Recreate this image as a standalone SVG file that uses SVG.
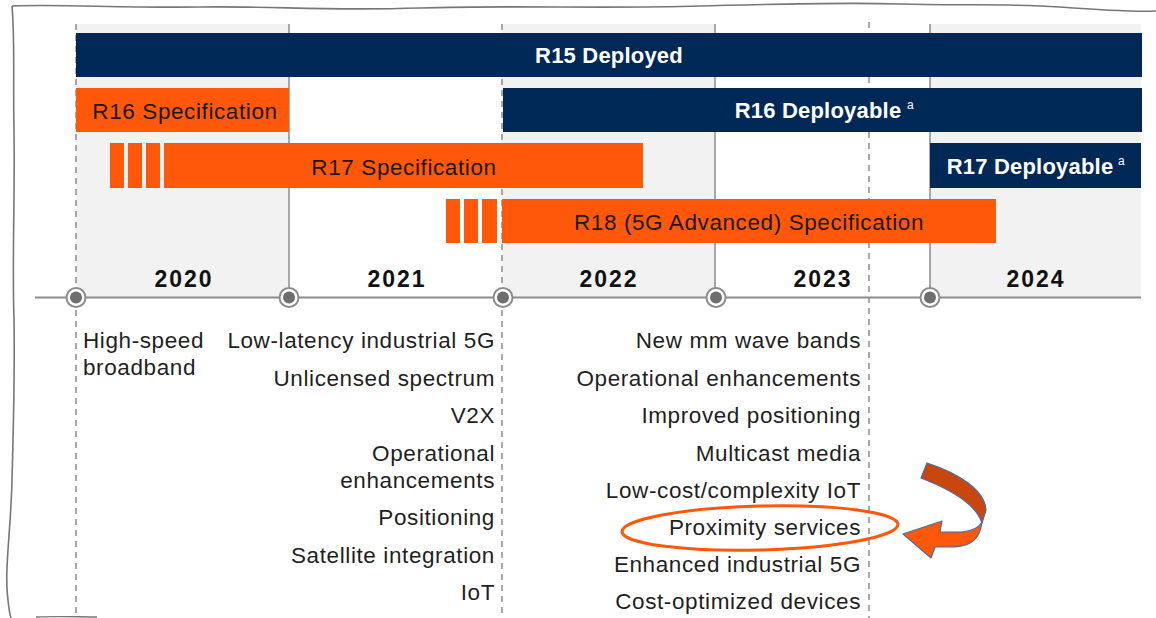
<svg xmlns="http://www.w3.org/2000/svg" width="1156" height="618" viewBox="0 0 1156 618">
<style>
.band{fill:#f2f2f2}
.navy{fill:#002856}
.orng{fill:#ff580a}
.sol{stroke:#8c8c8c;stroke-width:1.5;fill:none}
.dash{stroke:#8c8c8c;stroke-width:1.5;stroke-dasharray:6 5;fill:none}
.bt{font-family:"Liberation Sans",Arial,sans-serif;font-size:22.5px;fill:#1a1a1a;text-anchor:middle;letter-spacing:0.6px}
.wt{font-family:"Liberation Sans",Arial,sans-serif;font-size:22px;font-weight:bold;fill:#ffffff;text-anchor:middle;letter-spacing:0.2px}
.sup{font-family:"Liberation Sans",Arial,sans-serif;font-size:12px;fill:#ffffff}
.yr{font-family:"Liberation Sans",Arial,sans-serif;font-size:23px;font-weight:bold;fill:#111;text-anchor:middle;letter-spacing:2px}
.lt{font-family:"Liberation Sans",Arial,sans-serif;font-size:22.5px;fill:#1f1f1f;letter-spacing:0.6px}
.r{text-anchor:end}
</style>
<rect width="1156" height="618" fill="#ffffff"/>
<!-- hand-drawn border -->
<path d="M12,6 C60,4 120,8 200,7 C280,6 320,11 420,8 C520,5 600,9 700,6 C780,4 840,2 900,4 C960,6 1000,3 1060,7 C1100,10 1130,12 1156,11" fill="none" stroke="#777" stroke-width="1.6"/>
<path d="M12,6 C15,40 13,80 14,130 C15,200 12,260 14,320 C15,380 13,440 12,480 C11,530 4,570 8,600 C9,610 10,615 11,618" fill="none" stroke="#777" stroke-width="1.6"/>
<path d="M36,617 C60,616 80,617 97,617" fill="none" stroke="#777" stroke-width="1.4"/>
<!-- shaded year columns -->
<g id="columns">
<rect class="band" x="76" y="24" width="213" height="273"/>
<rect class="band" x="502" y="24" width="213" height="273"/>
<rect class="band" x="930" y="24" width="211" height="273"/>
</g>
<!-- grid lines -->
<g id="grid">
<line class="dash" x1="76" y1="24" x2="76" y2="618"/>
<line class="dash" x1="502" y1="24" x2="502" y2="618"/>
<line class="dash" x1="869" y1="22" x2="869" y2="618"/>
<line class="sol" x1="289" y1="24" x2="289" y2="297"/>
<line class="sol" x1="715" y1="24" x2="715" y2="297"/>
<line class="sol" x1="930" y1="24" x2="930" y2="297"/>
<line x1="35" y1="297.5" x2="1141" y2="297.5" stroke="#8c8c8c" stroke-width="2"/>
</g>
<!-- bars -->
<g id="r15-deployed">
<rect class="navy" x="76" y="33" width="1066" height="44"/>
<text class="wt" x="609" y="63">R15 Deployed</text>
</g>
<g id="r16-spec">
<rect class="orng" x="76" y="88" width="213" height="44"/>
<text class="bt" x="185" y="119">R16 Specification</text>
</g>
<g id="r16-deployable">
<rect class="navy" x="503" y="88" width="639" height="44"/>
<text class="wt" x="818" y="118">R16 Deployable</text>
<text class="sup" x="907" y="109">a</text>
</g>
<g id="r17-spec">
<rect class="orng" x="110" y="143" width="14" height="45"/>
<rect class="orng" x="128" y="143" width="14" height="45"/>
<rect class="orng" x="146" y="143" width="14" height="45"/>
<rect class="orng" x="164" y="143" width="479" height="45"/>
<text class="bt" x="404" y="175">R17 Specification</text>
</g>
<g id="r17-deployable">
<rect class="navy" x="930" y="143" width="211" height="45"/>
<text class="wt" x="1030" y="174">R17 Deployable</text>
<text class="sup" x="1118" y="165">a</text>
</g>
<g id="r18-spec">
<rect class="orng" x="446" y="199" width="14" height="44"/>
<rect class="orng" x="464" y="199" width="14" height="44"/>
<rect class="orng" x="482" y="199" width="15" height="44"/>
<rect class="orng" x="502" y="199" width="494" height="44"/>
<text class="bt" x="749" y="230">R18 (5G Advanced) Specification</text>
</g>
<!-- years -->
<g id="years">
<text class="yr" x="184" y="287">2020</text>
<text class="yr" x="397" y="287">2021</text>
<text class="yr" x="609" y="287">2022</text>
<text class="yr" x="823" y="287">2023</text>
<text class="yr" x="1036" y="287">2024</text>
</g>
<!-- milestone markers -->
<g id="markers">
<circle cx="76" cy="297.5" r="9.5" fill="#fff" stroke="#8c8c8c" stroke-width="2"/><circle cx="76" cy="297.5" r="6" fill="#6e6e6e"/>
<circle cx="289" cy="297.5" r="9.5" fill="#fff" stroke="#8c8c8c" stroke-width="2"/><circle cx="289" cy="297.5" r="6" fill="#6e6e6e"/>
<circle cx="503" cy="297.5" r="9.5" fill="#fff" stroke="#8c8c8c" stroke-width="2"/><circle cx="503" cy="297.5" r="6" fill="#6e6e6e"/>
<circle cx="716" cy="297.5" r="9.5" fill="#fff" stroke="#8c8c8c" stroke-width="2"/><circle cx="716" cy="297.5" r="6" fill="#6e6e6e"/>
<circle cx="930" cy="297.5" r="9.5" fill="#fff" stroke="#8c8c8c" stroke-width="2"/><circle cx="930" cy="297.5" r="6" fill="#6e6e6e"/>
</g>
<!-- feature lists -->
<g id="features-2020">
<text class="lt" x="83" y="348">High-speed</text>
<text class="lt" x="83" y="375">broadband</text>
</g>
<g id="features-2021">
<text class="lt r" x="495" y="348">Low-latency industrial 5G</text>
<text class="lt r" x="495" y="386">Unlicensed spectrum</text>
<text class="lt r" x="495" y="423">V2X</text>
<text class="lt r" x="495" y="461">Operational</text>
<text class="lt r" x="495" y="488">enhancements</text>
<text class="lt r" x="495" y="525">Positioning</text>
<text class="lt r" x="495" y="563">Satellite integration</text>
<text class="lt r" x="495" y="600">IoT</text>
</g>
<g id="features-2022">
<text class="lt r" x="861" y="348">New mm wave bands</text>
<text class="lt r" x="861" y="386">Operational enhancements</text>
<text class="lt r" x="861" y="423">Improved positioning</text>
<text class="lt r" x="861" y="461">Multicast media</text>
<text class="lt r" x="861" y="498">Low-cost/complexity IoT</text>
<text class="lt r" x="861" y="535">Proximity services</text>
<text class="lt r" x="861" y="572">Enhanced industrial 5G</text>
<text class="lt r" x="861" y="609">Cost-optimized devices</text>
</g>
<!-- highlight -->
<g id="highlight">
<ellipse cx="760" cy="528" rx="138" ry="22" fill="none" stroke="#ff580a" stroke-width="3" transform="rotate(-1.5 760 528)"/>
</g>
<g id="connectors">
<path d="M921,478 L927,463 C958,473 985,490 986,510 L982,523 C976,504 952,490 921,478 Z" fill="#c9470c" stroke="#4a6aa0" stroke-width="1.2" stroke-linejoin="round"/>
<path d="M982,522 C980,538 972,546 955,547 L935,547 L931,558 L903,534 L942,521 L940,532 L962,532 C972,531 979,528 982,522 Z" fill="#ff580a" stroke="#4a6aa0" stroke-width="1.2" stroke-linejoin="round"/>
</g>
</svg>
